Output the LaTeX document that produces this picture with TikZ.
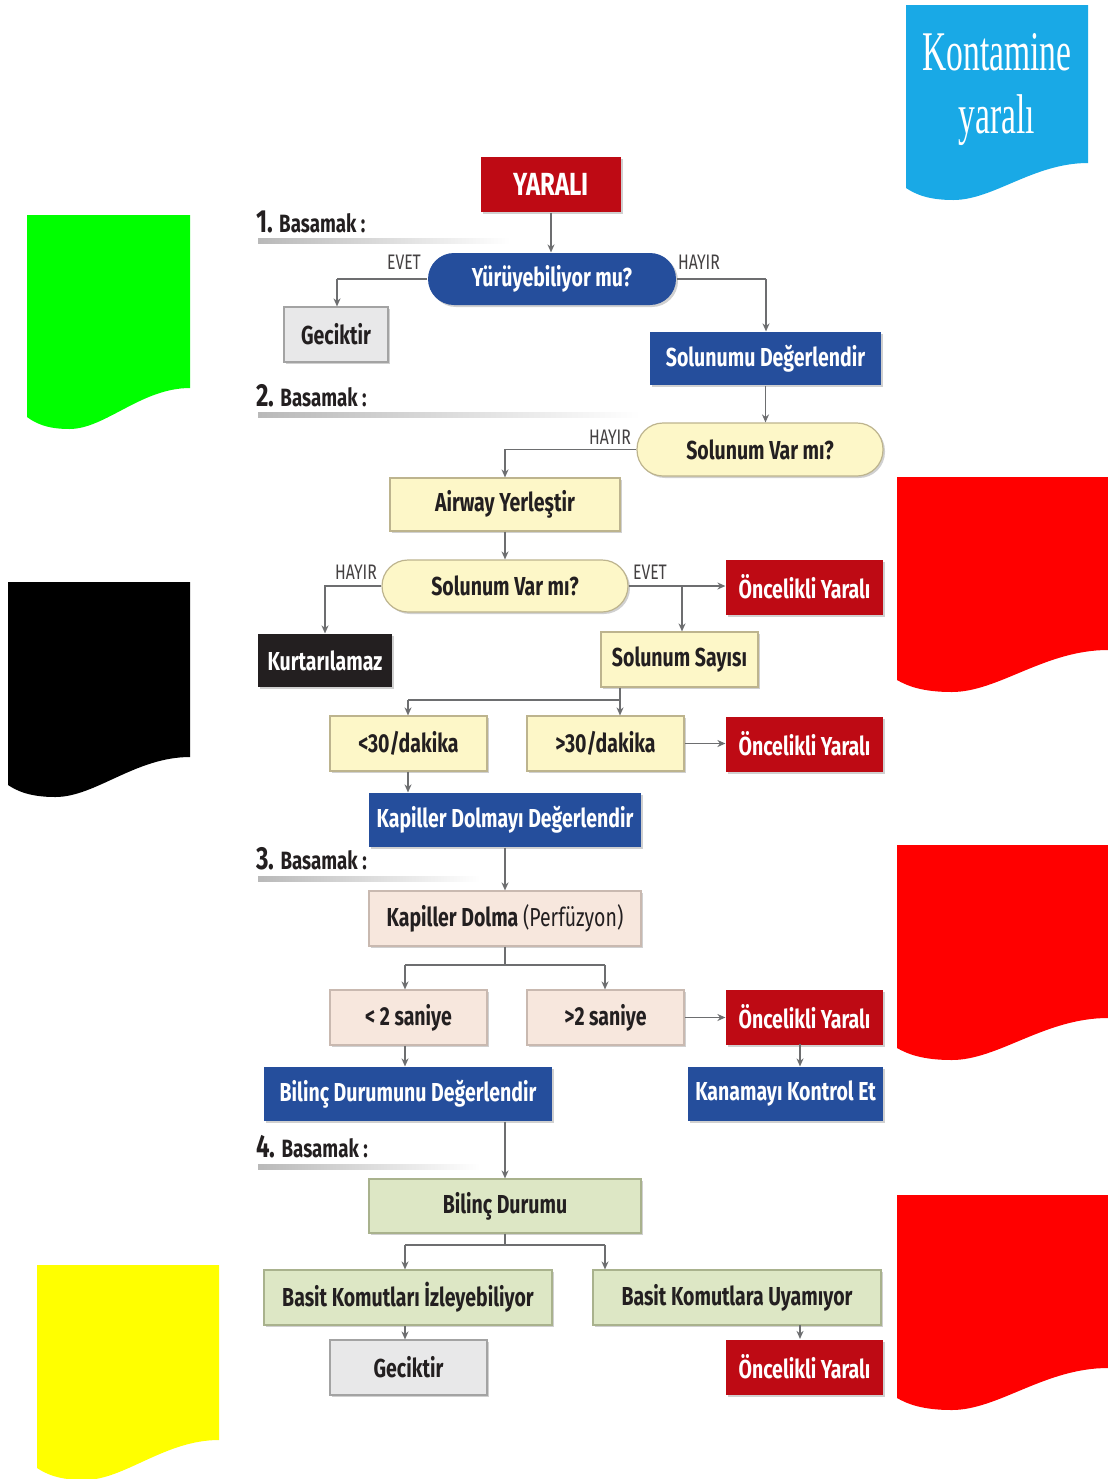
\documentclass[tikz,border=0pt]{standalone}
\usepackage{fontspec}
\usetikzlibrary{arrows.meta,shadows}
\newfontfamily\condfont[FakeStretch=0.75]{Fira Sans}
\newfontfamily\kontfont{Liberation Serif}
\definecolor{darkred}{HTML}{BE0A14}
\definecolor{deepblue}{HTML}{254E9C}
\definecolor{paleyellow}{HTML}{FDF7C8}
\definecolor{yellowedge}{HTML}{BDB48E}
\definecolor{palegray}{HTML}{E8E8E9}
\definecolor{grayedge}{HTML}{A3A3A3}
\definecolor{palepink}{HTML}{F7E7DD}
\definecolor{pinkedge}{HTML}{C9B9B0}
\definecolor{palegreen}{HTML}{DDE7C5}
\definecolor{greenedge}{HTML}{A9B28D}
\definecolor{nearblack}{HTML}{231F20}
\definecolor{linegray}{HTML}{6D6E70}
\definecolor{flaggreen}{HTML}{00FF00}
\definecolor{flagred}{HTML}{FF0000}
\definecolor{flagyellow}{HTML}{FFFF00}
\definecolor{flagcyan}{HTML}{19A9E6}

% wavy-bottom flag: left, top, right, bottom-left y, bottom-right y, colour
\newcommand\wavyflag[6]{%
  \pgfmathsetmacro\wfW{#3-#1}%
  \pgfmathsetmacro\wfTx{#1+0.26*\wfW}%
  \pgfmathsetmacro\wfTy{#4+12}%
  \pgfmathsetmacro\wfA{#3-0.3*\wfW}%
  \pgfmathsetmacro\wfB{#1+0.48*\wfW}%
  \pgfmathsetmacro\wfC{#1+0.12*\wfW}%
  \pgfmathsetmacro\wfD{#1+0.05*\wfW}%
  \fill[#6] (#1,#2) -- (#3,#2) -- (#3,#5)
    .. controls (\wfA,#5) and (\wfB,\wfTy) .. (\wfTx,\wfTy)
    .. controls (\wfC,\wfTy) and (\wfD,#4+6) .. (#1,#4) -- cycle;}

\begin{document}
\begin{tikzpicture}[x=0.5pt,y=-0.5pt,
  box/.style={rectangle, inner sep=0pt, line width=0.6pt,
    font=\condfont\bfseries\fontsize{13}{15}\selectfont,
    drop shadow={shadow xshift=1pt, shadow yshift=-1pt, opacity=0.3, fill=black!60}},
  redbox/.style={box, fill=darkred, text=white},
  bluebox/.style={box, fill=deepblue, text=white},
  blackbox/.style={box, fill=nearblack, text=white},
  yelbox/.style={box, fill=paleyellow, draw=yellowedge, text=nearblack},
  graybox/.style={box, fill=palegray, draw=grayedge, text=nearblack},
  pinkbox/.style={box, fill=palepink, draw=pinkedge, text=nearblack},
  grnbox/.style={box, fill=palegreen, draw=greenedge, text=nearblack},
  wbox/.style={minimum width=78.5pt, minimum height=27.5pt},
  conn/.style={draw=linegray, line width=0.9pt},
  arr/.style={conn, -{Stealth[length=4pt,width=3.5pt]}},
  answer/.style={font=\condfont\fontsize{10.5}{12}\selectfont, text=nearblack!85},
  steplabel/.style={anchor=west, inner sep=0pt, text=nearblack,
    font=\condfont\bfseries\fontsize{12.5}{14}\selectfont}]

\useasboundingbox (0,0) rectangle (1108,1479);
\fill[white] (0,0) rectangle (1108,1479);

% colour flags
\wavyflag{906}{5}{1088}{188}{163}{flagcyan}
\wavyflag{27}{215}{190}{417}{388}{flaggreen}
\wavyflag{8}{582}{190}{785}{757}{black}
\wavyflag{897}{477}{1108}{680}{650}{flagred}
\wavyflag{897}{845}{1108}{1048}{1018}{flagred}
\wavyflag{897}{1195}{1108}{1398}{1368}{flagred}
\wavyflag{37}{1265}{219}{1468}{1440}{flagyellow}

\node[text=white, font=\kontfont\fontsize{28}{30}\selectfont, inner sep=0pt] (kont) at (997,52) {\scalebox{0.6}[1]{Kontamine}};
\node[text=white, font=\kontfont\fontsize{28}{30}\selectfont, inner sep=0pt] (kontyar) at (997,120) {\scalebox{0.6}[1]{yaral\i}};

% step headings with fading rules
\shade[left color=gray!55, right color=white] (258,238) rectangle (510,243);
\shade[left color=gray!55, right color=white] (258,412) rectangle (640,417);
\shade[left color=gray!55, right color=white] (258,876) rectangle (480,881);
\shade[left color=gray!55, right color=white] (258,1164) rectangle (480,1169);
\node[steplabel] (st1) at (256,222) {{\fontsize{16}{18}\selectfont 1.} Basamak :};
\node[steplabel] (st2) at (256,396) {{\fontsize{16}{18}\selectfont 2.} Basamak :};
\node[steplabel] (st3) at (256,859) {{\fontsize{16}{18}\selectfont 3.} Basamak :};
\node[steplabel] (st4) at (256,1147) {{\fontsize{16}{18}\selectfont 4.} Basamak :};

% nodes
\node[redbox, minimum width=70pt, minimum height=27.5pt] (yarali) at (551,184.5) {\fontsize{16}{18}\selectfont YARALI};
\node[bluebox, rounded corners=13pt, minimum width=124pt, minimum height=26pt] (yuru) at (552,279) {Yürüyebiliyor mu?};
\node[graybox, minimum width=52pt, minimum height=27.5pt] (gec1) at (336,334.5) {Geciktir};
\node[bluebox, minimum width=115.5pt, minimum height=26.5pt] (soldeg) at (765.5,358.5) {Solunumu Değerlendir};
\node[yelbox, rounded corners=13pt, minimum width=123pt, minimum height=26.5pt] (solvar1) at (760,449.5) {Solunum Var mı?};
\node[yelbox, minimum width=115pt, minimum height=26.5pt] (airway) at (505,504.5) {Airway Yerleştir};
\node[yelbox, rounded corners=13pt, minimum width=123pt, minimum height=26pt] (solvar2) at (505,586) {Solunum Var mı?};
\node[blackbox, minimum width=67pt, minimum height=26.5pt] (kurt) at (325,660.5) {Kurtarılamaz};
\node[redbox, wbox] (onc1) at (804.5,587) {Öncelikli Yaralı};
\node[yelbox, wbox] (solsay) at (679.5,659.5) {Solunum Sayısı};
\node[yelbox, wbox] (lt30) at (408.5,743.5) {<30/dakika};
\node[yelbox, wbox] (gt30) at (605.5,743.5) {>30/dakika};
\node[redbox, wbox] (onc2) at (804.5,744) {Öncelikli Yaralı};
\node[bluebox, minimum width=136pt, minimum height=27pt] (kapdeg) at (505,820) {Kapiller Dolmayı Değerlendir};
\node[pinkbox, minimum width=136pt, minimum height=27.5pt] (kapdol) at (505,918.5) {Kapiller Dolma \mdseries(Perfüzyon)};
\node[pinkbox, wbox] (lt2) at (408.5,1017.5) {< 2 saniye};
\node[pinkbox, wbox] (gt2) at (605.5,1017.5) {>2 saniye};
\node[redbox, wbox] (onc3) at (804.5,1017) {Öncelikli Yaralı};
\node[bluebox, minimum width=97.5pt, minimum height=27pt] (kanama) at (785.5,1094) {Kanamayı Kontrol Et};
\node[bluebox, minimum width=144pt, minimum height=27pt] (bildeg) at (408,1094) {Bilinç Durumunu Değerlendir};
\node[grnbox, minimum width=136pt, minimum height=27pt] (bildur) at (505,1206) {Bilinç Durumu};
\node[grnbox, minimum width=144pt, minimum height=27.5pt] (basitiz) at (408,1297.5) {Basit Komutları İzleyebiliyor};
\node[grnbox, minimum width=144pt, minimum height=27.5pt] (basituy) at (737,1297.5) {Basit Komutlara Uyamıyor};
\node[graybox, wbox] (gec2) at (408.5,1367.5) {Geciktir};
\node[redbox, wbox] (onc4) at (804.5,1367) {Öncelikli Yaralı};

% answer labels
\node[answer] (evet1) at (404,262) {EVET};
\node[answer] (hayir1) at (699,262) {HAYIR};
\node[answer] (hayir2) at (610,437) {HAYIR};
\node[answer] (hayir3) at (356,572) {HAYIR};
\node[answer] (evet2) at (650,572) {EVET};

% branch points
\coordinate (j1) at (337,279);
\coordinate (j2) at (766,279);
\coordinate (j3) at (682,586);
\coordinate (j4) at (620,700);
\coordinate (j4l) at (408,700);
\coordinate (j5) at (505,965);
\coordinate (j5l) at (405,965);
\coordinate (j5r) at (605,965);
\coordinate (j6) at (800,1044);
\coordinate (j7) at (505,1245);
\coordinate (j7l) at (405,1245);
\coordinate (j7r) at (605,1245);
\coordinate (j8) at (800,1325);

% connectors
\draw[arr] (yarali.south) -- (yarali.south |- yuru.north);
\draw[conn] (yuru.west) -- (j1);
\draw[arr] (j1) -- (j1 |- gec1.north);
\draw[conn] (yuru.east) -- (j2);
\draw[arr] (j2) -- (j2 |- soldeg.north);
\draw[arr] (soldeg.south) -- (soldeg.south |- solvar1.north);
\draw[arr] (solvar1.west) -| (airway.north);
\draw[arr] (airway.south) -- (solvar2.north);
\draw[arr] (solvar2.west) -| (kurt.north);
\draw[arr] (solvar2.east) -- (solvar2.east -| onc1.west);
\draw[arr] (j3) -- (j3 |- solsay.north);
\draw[conn] (j4 |- solsay.south) -- (j4) -- (j4l);
\draw[arr] (j4) -- (j4 |- gt30.north);
\draw[arr] (j4l) -- (j4l |- lt30.north);
\draw[arr] (gt30.east) -- (gt30.east -| onc2.west);
\draw[arr] (j4l |- lt30.south) -- (j4l |- kapdeg.north);
\draw[arr] (kapdeg.south) -- (kapdol.north);
\draw[conn] (kapdol.south) -- (j5);
\draw[conn] (j5l) -- (j5r);
\draw[arr] (j5l) -- (j5l |- lt2.north);
\draw[arr] (j5r) -- (j5r |- gt2.north);
\draw[arr] (gt2.east) -- (gt2.east -| onc3.west);
\draw[arr] (j6) -- (j6 |- kanama.north);
\draw[arr] (j5l |- lt2.south) -- (j5l |- bildeg.north);
\draw[arr] (bildur.north |- bildeg.south) -- (bildur.north);
\draw[conn] (bildur.south) -- (j7);
\draw[conn] (j7l) -- (j7r);
\draw[arr] (j7l) -- (j7l |- basitiz.north);
\draw[arr] (j7r) -- (j7r |- basituy.north);
\draw[arr] (j7l |- basitiz.south) -- (j7l |- gec2.north);
\draw[arr] (j8) -- (j8 |- onc4.north);

\end{tikzpicture}
\end{document}
